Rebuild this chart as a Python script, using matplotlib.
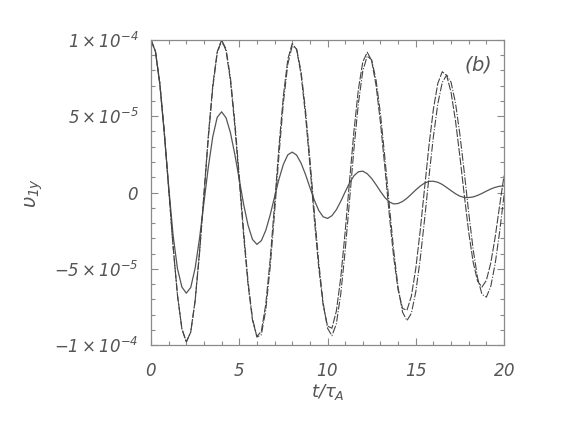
import numpy as np
import matplotlib
matplotlib.use('Agg')
from matplotlib import pyplot as plt
from matplotlib.ticker import MultipleLocator, FixedLocator

plt.rcParams['font.family'] = ['DejaVu Sans']
plt.rcParams['mathtext.fontset'] = 'custom'
plt.rcParams['mathtext.rm'] = 'DejaVu Sans:italic'
plt.rcParams['mathtext.it'] = 'DejaVu Sans:italic'
plt.rcParams['mathtext.default'] = 'it'

# time axis, t/tau_A, read at every 0.25
t = np.arange(0, 20.01, 0.25)

# values, in units of 1e-5
v_solid = [10.0, 9.25, 7.1, 3.9, 0.4, -2.8, -5.0, -6.2, -6.6,
           -6.23, -4.96, -3.0, -0.65, 1.69, 3.66, 4.93, 5.29,
           4.90, 3.92, 2.49, 0.85, -0.79, -2.16, -3.08, -3.4,
           -3.16, -2.49, -1.48, -0.29, 0.88, 1.85, 2.47, 2.65,
           2.45, 1.93, 1.19, 0.34, -0.49, -1.17, -1.59, -1.7,
           -1.52, -1.13, -0.58, 0.04, 0.63, 1.10, 1.36, 1.40,
           1.23, 0.92, 0.51, 0.07, -0.33, -0.62, -0.75, -0.72,
           -0.59, -0.375, -0.11, 0.17, 0.42, 0.62, 0.73, 0.74,
           0.67, 0.53, 0.33, 0.12, -0.08, -0.24, -0.33, -0.33,
           -0.29, -0.19, -0.06, 0.09, 0.23, 0.34, 0.41, 0.43]

v_dash = [10.0, 9.26, 7.15, 4.0, 0.26, -3.51, -6.74, -8.94, -9.8,
          -9.15, -7.07, -3.87, -0.06, 3.77, 7.04, 9.23, 10.0,
          9.31, 7.32, 4.34, 0.78, -2.87, -6.07, -8.38, -9.44,
          -9.10, -7.34, -4.41, -0.78, 3.02, 6.35, 8.73, 9.77,
          9.38, 7.75, 5.1, 1.80, -1.70, -4.90, -7.36, -8.76,
          -8.9, -7.78, -5.58, -2.58, 0.78, 4.05, 6.77, 8.57,
          9.2, 8.64, 7.03, 4.58, 1.64, -1.46, -4.25, -6.39,
          -7.6, -7.72, -6.80, -4.99, -2.52, 0.30, 3.09, 5.48,
          7.16, 7.92, 7.68, 6.56, 4.71, 2.36, -0.19, -2.61,
          -4.56, -5.81, -6.2, -5.76, -4.62, -2.92, -0.87, 1.1]

v_dashdot = [10.0, 9.26, 7.15, 4.0, 0.26, -3.51, -6.74, -8.94, -9.8,
             -9.16, -7.12, -3.98, -0.21, 3.59, 6.88, 9.12, 9.99,
             9.41, 7.54, 4.62, 1.09, -2.56, -5.85, -8.26, -9.48,
             -9.33, -7.72, -4.91, -1.33, 2.46, 5.90, 8.41, 9.62,
             9.40, 7.94, 5.43, 2.23, -1.24, -4.54, -7.21, -8.90,
             -9.39, -8.61, -6.66, -3.81, -0.48, 2.90, 5.85, 7.97,
             8.95, 8.70, 7.38, 5.15, 2.28, -0.82, -3.80, -6.24,
             -7.84, -8.4, -7.92, -6.52, -4.38, -1.75, 1.05, 3.68,
             5.82, 7.22, 7.7, 7.23, 5.87, 3.80, 1.31, -1.33,
             -3.72, -5.59, -6.68, -6.86, -6.15, -4.66, -2.59, -0.19]

yticks = [-1e-4, -5e-5, 0, 5e-5, 1e-4]
ytick_labels = [r'$-1\times10^{-4}$', r'$-5\times10^{-5}$', r'$0$',
                r'$5\times10^{-5}$', r'$1\times10^{-4}$']
xticks = [0, 5, 10, 15, 20]

axis_col = '#8a8a8a'
text_col = '#555555'

fig = plt.figure(figsize=(5.66, 4.25), dpi=100)
ax = fig.add_axes([0.2668, 0.1882, 0.6237, 0.7177])

scale = 1e-5
ax.plot(t, np.array(v_solid) * scale, color='#555555', lw=0.9)
ax.plot(t, np.array(v_dash) * scale, color='#444444', lw=0.8,
        dashes=(7, 1.5))
ax.plot(t, np.array(v_dashdot) * scale, color='#444444', lw=0.8,
        dashes=(7, 1.5, 1, 1.5))

ax.set_xlim(0, 20)
ax.set_ylim(-1e-4, 1e-4)

ax.xaxis.set_major_locator(FixedLocator(xticks))
ax.xaxis.set_minor_locator(MultipleLocator(1))
ax.yaxis.set_major_locator(FixedLocator(yticks))
ax.yaxis.set_minor_locator(MultipleLocator(1e-5))
ax.set_xticklabels([r'$%d$' % x for x in xticks])
ax.set_yticklabels(ytick_labels)

ax.tick_params(which='both', direction='in', top=True, right=True,
               color=axis_col, width=0.8, labelcolor=text_col,
               labelsize=12)
ax.tick_params(which='major', length=5)
ax.tick_params(which='minor', length=3)
ax.tick_params(axis='x', pad=12)
ax.tick_params(axis='y', pad=9)
for s in ax.spines.values():
    s.set_color(axis_col)
    s.set_linewidth(0.9)

ax.set_xlabel(r'$t/\tau_A$', fontsize=13, color=text_col, labelpad=2)
ax.set_ylabel(r'$\upsilon_{1y}$', fontsize=14, color=text_col, labelpad=6)
ax.text(18.5, 8.4e-5, r'$(b)$', fontsize=14, color=text_col,
        ha='center', va='center')

fig.savefig('out.png', dpi=100)
